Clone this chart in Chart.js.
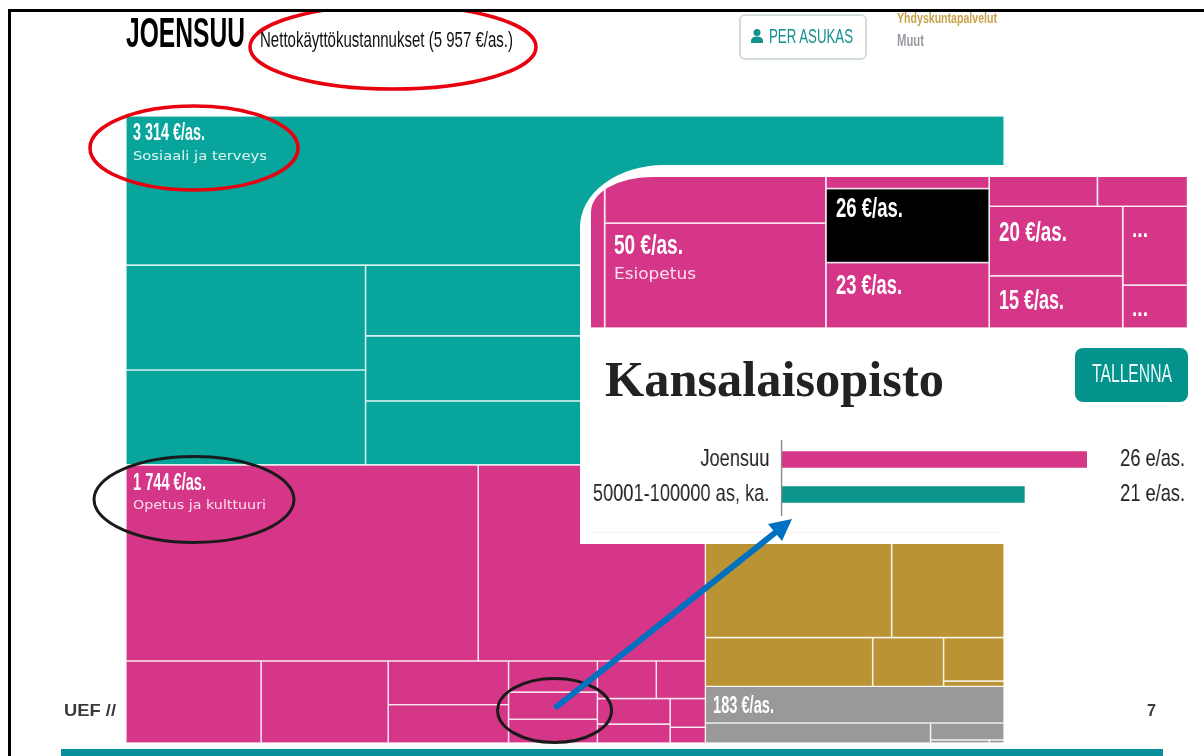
<!DOCTYPE html>
<html lang="fi">
<head>
<meta charset="utf-8">
<title>Joensuu</title>
<script src="https://cdn.jsdelivr.net/npm/chart.js@4"></script>
<style>
  html, body { margin: 0; padding: 0; background: #fff; overflow: hidden; }
  #page { position: relative; width: 1204px; height: 756px; overflow: hidden; }
  canvas { position: absolute; display: block; }
  .box { position: absolute; }
  .txt { position: absolute; white-space: pre; line-height: 1; transform-origin: left top; }
  svg { position: absolute; left: 0; top: 0; }
</style>
</head>
<body>
<div id="page">
  <canvas id="treeChart" width="878" height="627" style="left:126px;top:116px"></canvas>
  <div class="box" style="left:580px;top:165px;width:624px;height:379px;background:#fff;border-top-left-radius:84px 62px"></div>
  <canvas id="zoomChart" width="596" height="151" style="left:591px;top:177px;border-top-left-radius:60px 35px"></canvas>
  <canvas id="barChart" width="790" height="76" style="left:590px;top:440px;transform:scaleX(0.76);transform-origin:left top"></canvas>
  <div class="box" style="left:591px;top:532px;width:412px;height:1px;background:#fdf3ee"></div>
  <div class="box" style="left:1075px;top:348px;width:113px;height:54px;background:#03938c;border-radius:8px"></div>
  <div class="box" style="left:739px;top:14px;width:124px;height:42px;border:2px solid #d3dddc;border-radius:6px"></div>
  <div class="box" style="left:61px;top:749px;width:1102px;height:7px;background:#068f9b"></div>
  <svg width="1204" height="756">
    <path d="M751 43 v-2 q0 -4.5 6 -4.5 q6 0 6 4.5 v2 Z" fill="#14918f"/>
    <circle cx="757" cy="32.5" r="3.5" fill="#14918f"/>
    <g fill="none">
      <ellipse cx="393" cy="47" rx="143" ry="42" stroke="#e8000f" stroke-width="3.5"/>
      <ellipse cx="194" cy="148" rx="104" ry="42" stroke="#e8000f" stroke-width="3.5"/>
      <ellipse cx="194" cy="499.5" rx="100" ry="43" stroke="#1a1a1a" stroke-width="3"/>
      <ellipse cx="554.5" cy="710.5" rx="57" ry="32" stroke="#1a1a1a" stroke-width="3"/>
    </g>
    <line x1="555" y1="708" x2="776" y2="532" stroke="#0070c0" stroke-width="6"/>
    <polygon points="792,519 768,524 782,541" fill="#0070c0"/>
  </svg>
  <div class="box" style="left:0;top:0;width:1204px;height:9px;background:#fff"></div>
  <div class="box" style="left:8px;top:9px;width:1196px;height:3px;background:#000"></div>
  <div class="box" style="left:8px;top:9px;width:3px;height:747px;background:#000"></div>
</div>

<script>
// euro per resident; first word tells which way a block is split
const tealCells = ["rows", 1415, ["cols", ["rows", 272, 246], ["rows", 257, 236, 232], 656]];
const pinkCells = ["rows", ["cols", 747, 482],
  ["cols", 120, 113, ["rows", 57, 50], ["rows", 30, 26, 23],
    ["rows", ["cols", 24, 20], ["cols", ["rows", 20, 15], ["rows", 11, 6]]]]];
const goldCells = ["rows", ["cols", 348, 210], ["cols", 88.5, 37.5, ["rows", 28.5, 3.5]]];
const greyCells = ["rows", 118, ["cols", 49, ["rows", 13.5, ["cols", 2, 0.5]]]];
const allCells = ["rows", tealCells, ["cols", pinkCells, ["rows", goldCells, greyCells]]];

const groupColors = new Map([
  [tealCells, "#07a59c"],
  [pinkCells, "#d53687"],
  [goldCells, "#ba9334"],
  [greyCells, "#999999"],
]);
const selectedValue = 26;

const barLabels = ["Joensuu", "50001-100000 as, ka."];
const barValues = [26.4, 21];
const barShown = ["26 e/as.", "21 e/as."];
const barColors = ["#d53687", "#0a948c"];

function total(node) {
  if (typeof node === "number") return node;
  return node.slice(1).reduce((sum, kid) => sum + total(kid), 0);
}

function layout(node, x0, y0, x1, y1, color, out) {
  color = groupColors.get(node) || color;
  if (typeof node === "number") {
    out.push({ x0, y0, x1, y1, color, value: node });
    return out;
  }
  const whole = total(node);
  let pos = 0;
  node.slice(1).forEach((kid) => {
    const a = pos / whole;
    pos += total(kid);
    const b = pos / whole;
    if (node[0] === "rows") {
      layout(kid, x0, y0 + (y1 - y0) * a, x1, y0 + (y1 - y0) * b, color, out);
    } else {
      layout(kid, x0 + (x1 - x0) * a, y0, x0 + (x1 - x0) * b, y1, color, out);
    }
  });
  return out;
}

function cellDatasets(highlight) {
  return layout(allCells, 0, 0, 1, 1, "#000", []).map((c) => {
    const black = highlight && c.value === selectedValue && c.color === groupColors.get(pinkCells);
    return {
      data: [
        { x: c.x0, y: c.y0 },
        { x: c.x1, y: c.y0 },
        { x: c.x1, y: c.y1 },
        { x: c.x0, y: c.y1 },
        { x: c.x0, y: c.y0 },
      ],
      fill: "shape",
      backgroundColor: black ? "#000" : c.color,
      borderColor: "rgba(255,255,255,0.8)",
      borderWidth: highlight ? 1.6 : 1.4,
      pointRadius: 0,
      tension: 0,
    };
  });
}

function treeOptions(xMin, xMax, yMin, yMax) {
  return {
    responsive: false,
    animation: false,
    layout: { padding: 0 },
    plugins: { legend: { display: false }, tooltip: { enabled: false } },
    events: [],
    scales: {
      x: { type: "linear", display: false, min: xMin, max: xMax },
      y: { type: "linear", display: false, min: yMin, max: yMax, reverse: true },
    },
  };
}

new Chart(document.getElementById("treeChart"), {
  type: "line",
  data: { datasets: cellDatasets(false) },
  options: treeOptions(0, 1, 0, 1),
});

// the popup is an enlarged crop of the corner of the same treemap
new Chart(document.getElementById("zoomChart"), {
  type: "line",
  data: { datasets: cellDatasets(true) },
  options: treeOptions(0.2901, 0.6595, 0.912, 1),
});

const axisLine = {
  id: "axisLine",
  afterDraw(chart) {
    const ctx = chart.ctx;
    const x = chart.chartArea.left;
    ctx.save();
    ctx.strokeStyle = "#8a8a8a";
    ctx.lineWidth = 2;
    ctx.beginPath();
    ctx.moveTo(x, 0);
    ctx.lineTo(x, chart.height);
    ctx.stroke();
    ctx.restore();
  },
};

const barFont = { family: "'Liberation Sans'", size: 24 };

// fixed axis width, and no room kept above and below for half a tick label
function fitAxis(width) {
  return (scale) => {
    scale.width = width;
    scale.paddingTop = 0;
    scale.paddingBottom = 0;
    scale._margins.top = 0;
    scale._margins.bottom = 0;
  };
}

new Chart(document.getElementById("barChart"), {
  type: "bar",
  data: {
    labels: barLabels,
    datasets: [{ data: barValues, backgroundColor: barColors, barThickness: 16, yAxisID: "y" }],
  },
  options: {
    indexAxis: "y",
    responsive: false,
    animation: false,
    events: [],
    layout: { padding: { top: 2, bottom: 4, right: 7, left: 0 } },
    plugins: { legend: { display: false }, tooltip: { enabled: false } },
    scales: {
      x: { type: "linear", display: false, min: 0, max: 28 },
      y: {
        position: "left",
        grid: { display: false },
        border: { display: false },
        afterFit: fitAxis(252),
        ticks: { color: "#222", font: barFont, padding: 8, autoSkip: false },
      },
      y2: {
        type: "category",
        labels: barShown,
        offset: true,
        position: "right",
        grid: { display: false },
        border: { display: false },
        afterFit: fitAxis(105),
        ticks: { color: "#222", font: barFont, crossAlign: "far", padding: 0, autoSkip: false },
      },
    },
  },
  plugins: [axisLine],
});

// text above the charts, squeezed to the measured width because the original font is condensed
const narrow = "'Liberation Sans'";
const dejavu = "'DejaVu Sans'";
function addText(text, x, y, size, width, color, family, weight) {
  const el = document.createElement("div");
  el.className = "txt";
  el.textContent = text;
  el.style.left = x + "px";
  el.style.top = y + "px";
  el.style.fontSize = size + "px";
  el.style.color = color;
  el.style.fontFamily = family;
  el.style.fontWeight = weight || "normal";
  document.getElementById("page").appendChild(el);
  el.style.transform = "scaleX(" + width / el.getBoundingClientRect().width + ")";
}

addText("JOENSUU", 126, 11, 43, 119, "#000", narrow, "bold");
addText("Nettokäyttökustannukset (5 957 €/as.)", 260, 29, 22, 253, "#111", narrow);
addText("PER ASUKAS", 769, 25, 21, 84, "#14918f", narrow);
addText("Yhdyskuntapalvelut", 897, 10, 15, 100, "#c9a24a", narrow, "bold");
addText("Muut", 897, 33, 16, 27, "#9a9aa2", narrow, "bold");

addText("3 314 €/as.", 133, 121, 23, 72, "#fff", narrow, "bold");
addText("Sosiaali ja terveys", 133, 149, 13, 134, "#dff4f1", dejavu);
addText("1 744 €/as.", 133, 471, 23, 73, "#fff", narrow, "bold");
addText("Opetus ja kulttuuri", 133, 498, 13, 133, "#fbe0ee", dejavu);
addText("183 €/as.", 713, 694, 23, 61, "#fff", narrow, "bold");

addText("50 €/as.", 614, 232, 27, 69, "#fff", narrow, "bold");
addText("Esiopetus", 614, 267, 15, 82, "#fbe0ee", dejavu);
addText("26 €/as.", 836, 195, 27, 67, "#fff", narrow, "bold");
addText("23 €/as.", 836, 272, 27, 66, "#fff", narrow, "bold");
addText("20 €/as.", 999, 219, 27, 68, "#fff", narrow, "bold");
addText("15 €/as.", 999, 287, 27, 65, "#fff", narrow, "bold");
addText("...", 1132, 217, 24, 16, "#fff", narrow, "bold");
addText("...", 1132, 296, 24, 16, "#fff", narrow, "bold");

addText("Kansalaisopisto", 605, 354, 50, 339, "#222", "'Liberation Serif'", "bold");
addText("TALLENNA", 1092, 361, 25, 80, "#e8f8f7", narrow);

addText("UEF //", 64, 702, 17, 52, "#3a3a3a", "'Liberation Sans'", "bold");
addText("7", 1147, 702, 17, 9, "#3a3a3a", "'Liberation Sans'", "bold");
</script>
</body>
</html>
